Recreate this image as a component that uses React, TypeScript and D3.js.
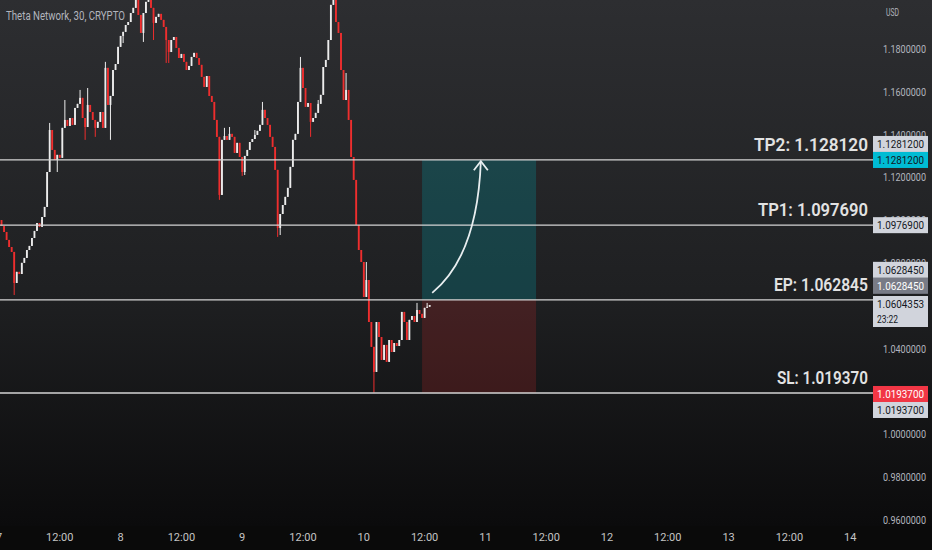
import React from 'react';
import * as d3 from 'd3';

// 30 minute candles, Theta Network, starting day 7 00:00 (one candle per half hour)
const firstOpen = 1.1025;
const closes = [
  1.1001, 1.0973, 1.0945, 1.0908, 1.0875, 1.0852, 1.0707, 1.0759, 1.0749, 1.0801,
  1.0824, 1.0861, 1.0880, 1.0917, 1.0950, 1.0987, 1.0969, 1.1015, 1.1062, 1.1225,
  1.1421, 1.1328, 1.1281, 1.1305, 1.1291, 1.1431, 1.1468, 1.1440, 1.1477, 1.1445,
  1.1524, 1.1543, 1.1571, 1.1477, 1.1435, 1.1538, 1.1505, 1.1468, 1.1431, 1.1459,
  1.1505, 1.1431, 1.1711, 1.1538, 1.1580, 1.1701, 1.1729, 1.1809, 1.1860, 1.1879,
  1.1911, 1.1925, 1.1967, 1.1991, 1.2051, 1.1958, 1.1874, 1.1967, 1.2019, 1.2042,
  1.1991, 1.1921, 1.1949, 1.1963, 1.1935, 1.1902, 1.1841, 1.1785, 1.1841, 1.1855,
  1.1804, 1.1757, 1.1776, 1.1739, 1.1701, 1.1720, 1.1762, 1.1781, 1.1757, 1.1725,
  1.1669, 1.1622, 1.1673, 1.1580, 1.1552, 1.1468, 1.1389, 1.1118, 1.1375, 1.1393,
  1.1375, 1.1403, 1.1389, 1.1314, 1.1361, 1.1295, 1.1225, 1.1300, 1.1328, 1.1365,
  1.1379, 1.1398, 1.1417, 1.1445, 1.1515, 1.1477, 1.1445, 1.1389, 1.1342, 1.1235,
  1.0964, 1.1029, 1.1071, 1.1109, 1.1151, 1.1249, 1.1375, 1.1403, 1.1552, 1.1711,
  1.1617, 1.1529, 1.1547, 1.1459, 1.1477, 1.1501, 1.1543, 1.1585, 1.1715, 1.1748,
  1.1841, 1.2005, 1.2051, 1.1925, 1.1874, 1.1701, 1.1561, 1.1608, 1.1468, 1.1295,
  1.1188, 1.0978, 1.0861, 1.0805, 1.0642, 1.0721, 1.0525, 1.0409, 1.0292, 1.0525,
  1.0455, 1.0348, 1.0418, 1.0339, 1.0441, 1.0385, 1.0427, 1.0413, 1.0441, 1.0572,
  1.0525, 1.0441, 1.0535, 1.0553, 1.0525, 1.0581, 1.0563, 1.0544, 1.0591, 1.0596,
  1.0604353,
];
// wicks that stick out past the body (candle index -> price)
const wickHighs: Record<number, number> = {
  20: 1.1454, 26: 1.1561, 32: 1.1608, 35: 1.1617, 42: 1.1739, 59: 1.2075, 89: 1.1431,
  91: 1.1435, 101: 1.1421, 104: 1.1552, 119: 1.1762, 126: 1.1561, 132: 1.2098,
  137: 1.1687, 145: 1.0805, 165: 1.0614, 169: 1.0614,
};
const wickLows: Record<number, number> = {
  6: 1.0651, 23: 1.1225, 34: 1.1375, 38: 1.1389, 44: 1.1375, 49: 1.1827, 57: 1.1832,
  61: 1.1841, 66: 1.1734, 67: 1.1734, 87: 1.1095, 96: 1.1207, 97: 1.1211, 110: 1.0922,
  111: 1.0931, 123: 1.1389, 148: 1.0195,
};

const levels = [
  { name: 'TP2', price: 1.12812, label: 'TP2: 1.128120' },
  { name: 'TP1', price: 1.09769, label: 'TP1: 1.097690' },
  { name: 'EP', price: 1.062845, label: 'EP: 1.062845' },
  { name: 'SL', price: 1.01937, label: 'SL: 1.019370' },
];
const positionStart = 83.5; // hours since day 7 00:00
const positionEnd = 106;
const arrowPath: [number, number][] = [
  [85.5, 1.0661], [91, 1.0768], [94.6, 1.0955], [95.1, 1.1275],
];
const priceTicks = [0.96, 0.98, 1.0, 1.02, 1.04, 1.06, 1.08, 1.1, 1.12, 1.14, 1.16, 1.18];
const timeTicks = d3.range(0, 169, 12);
const lastPrice = 1.0604353;
const countdown = '23:22';

const W = 932;
const H = 550;
const paneBottom = 526;
const axisX = 873;
const font = "Roboto, 'DejaVu Sans', sans-serif";

export default function App() {
  const x = d3.scaleLinear().domain([0, 168]).range([-1, 850.2]);
  const y = d3.scaleLinear().domain([0.96, 1.18]).range([520.2, 48.8]);
  const candleW = (x(0.5) - x(0)) * 0.72;

  const candles = closes.map((c, i) => {
    const o = i === 0 ? firstOpen : closes[i - 1];
    const h = wickHighs[i] ?? Math.max(o, c);
    const l = wickLows[i] ?? Math.min(o, c);
    return { t: i * 0.5, o, h, l, c };
  });

  const arrowLine = `M${x(arrowPath[0][0])},${y(arrowPath[0][1])} C${arrowPath
    .slice(1)
    .map(p => `${x(p[0])},${y(p[1])}`)
    .join(' ')}`;
  const tip = arrowPath[3];
  const tipX = x(tip[0]);
  const tipY = y(tip[1]);

  // price scale tags; offsets follow how the platform stacks overlapping tags
  const boxes = [
    { price: levels[0].price, dy: -16, fill: '#d1d4dc', color: '#131722' },
    { price: levels[0].price, dy: 0, fill: '#00bcd4', color: '#131722' },
    { price: levels[1].price, dy: 0, fill: '#d1d4dc', color: '#131722' },
    { price: levels[2].price, dy: -30, fill: '#d1d4dc', color: '#131722' },
    { price: levels[2].price, dy: -14, fill: '#787b86', color: '#ffffff' },
    { price: levels[3].price, dy: 1, fill: '#f23645', color: '#ffffff' },
    { price: levels[3].price, dy: 17, fill: '#d1d4dc', color: '#131722' },
  ];
  const labelWidths = [114, 110, 94, 91];

  return (
    <div style={{ position: 'fixed', left: 0, top: 0, width: W, height: H }}>
      <svg width={W} height={H} style={{ display: 'block' }}>
        <defs>
          <linearGradient id="bg" x1="0" y1="0" x2="0" y2="1">
            <stop offset="0%" stopColor="#2d2e31" />
            <stop offset="55%" stopColor="#1f2022" />
            <stop offset="100%" stopColor="#0b0b0c" />
          </linearGradient>
          <clipPath id="pane">
            <rect x={0} y={0} width={W} height={paneBottom} />
          </clipPath>
        </defs>
        <rect x={0} y={0} width={W} height={paneBottom} fill="url(#bg)" />
        <rect x={0} y={paneBottom} width={W} height={H - paneBottom} fill="#0a0a0a" />

        <text x={6} y={20} fill="#b2b5be" fontSize={12} fontFamily={font}
          textLength={119} lengthAdjust="spacingAndGlyphs">
          Theta Network, 30, CRYPTO
        </text>

        {/* long position zones */}
        <rect
          x={x(positionStart)} y={y(levels[0].price)}
          width={x(positionEnd) - x(positionStart)}
          height={y(levels[2].price) - y(levels[0].price)}
          fill="rgba(0,160,170,0.26)"
        />
        <rect
          x={x(positionStart)} y={y(levels[2].price)}
          width={x(positionEnd) - x(positionStart)}
          height={y(levels[3].price) - y(levels[2].price)}
          fill="rgba(200,40,40,0.22)"
        />

        <g clipPath="url(#pane)">
          {candles.map((d, i) => {
            const up = d.c >= d.o;
            const col = up ? '#ececec' : '#ee2e2e';
            const top = y(Math.max(d.o, d.c));
            const bot = y(Math.min(d.o, d.c));
            return (
              <g key={i}>
                <line x1={x(d.t)} x2={x(d.t)} y1={y(d.h)} y2={y(d.l)} stroke={col} strokeWidth={1} />
                <rect x={x(d.t) - candleW / 2} y={top} width={candleW} height={Math.max(1, bot - top)} fill={col} />
              </g>
            );
          })}
        </g>

        {levels.map((l, i) => (
          <g key={l.name}>
            <line x1={0} x2={axisX} y1={y(l.price)} y2={y(l.price)} stroke="#d4d4d4" strokeWidth={1.3} />
            <text
              x={868 - labelWidths[i]} y={y(l.price) - 9} fill="#e2e2e2"
              fontSize={18} fontWeight={600} fontFamily={font}
              textLength={labelWidths[i]} lengthAdjust="spacingAndGlyphs"
            >
              {l.label}
            </text>
          </g>
        ))}

        <path d={arrowLine} fill="none" stroke="#e8eef0" strokeWidth={1.8} />
        <path
          d={`M${tipX - 7},${tipY + 9} L${tipX},${tipY} L${tipX + 7},${tipY + 9}`}
          fill="none" stroke="#e8eef0" strokeWidth={1.8}
        />

        {/* price scale */}
        <text x={886} y={16} fill="#b2b5be" fontSize={11} fontFamily={font}
          textLength={13} lengthAdjust="spacingAndGlyphs">USD</text>
        <g clipPath="url(#pane)">
          {priceTicks.map(p => (
            <text key={p} x={883} y={y(p) + 4} fill="#b2b5be" fontSize={11} fontFamily={font}
              textLength={43} lengthAdjust="spacingAndGlyphs">
              {p.toFixed(7)}
            </text>
          ))}
        </g>
        {boxes.map((b, i) => (
          <g key={i}>
            <rect x={axisX} y={y(b.price) + b.dy - 8} width={55} height={16} fill={b.fill} />
            <text x={877} y={y(b.price) + b.dy + 4} fill={b.color} fontSize={11} fontFamily={font}
              textLength={47} lengthAdjust="spacingAndGlyphs">
              {b.price.toFixed(7)}
            </text>
          </g>
        ))}
        <rect x={axisX} y={y(lastPrice) - 9} width={55} height={31} fill="#d1d4dc" />
        <text x={877} y={y(lastPrice) + 3} fill="#131722" fontSize={11} fontFamily={font}
          textLength={47} lengthAdjust="spacingAndGlyphs">
          {lastPrice.toFixed(7)}
        </text>
        <text x={877} y={y(lastPrice) + 18} fill="#131722" fontSize={11} fontFamily={font}
          textLength={21} lengthAdjust="spacingAndGlyphs">
          {countdown}
        </text>

        {/* time scale */}
        {timeTicks.map(h => (
          <text
            key={h} x={x(h)} y={541} textAnchor="middle" fill="#c4c4c4"
            fontSize={11} fontFamily={font}
          >
            {h % 24 === 0 ? String(7 + h / 24) : '12:00'}
          </text>
        ))}
      </svg>
    </div>
  );
}
